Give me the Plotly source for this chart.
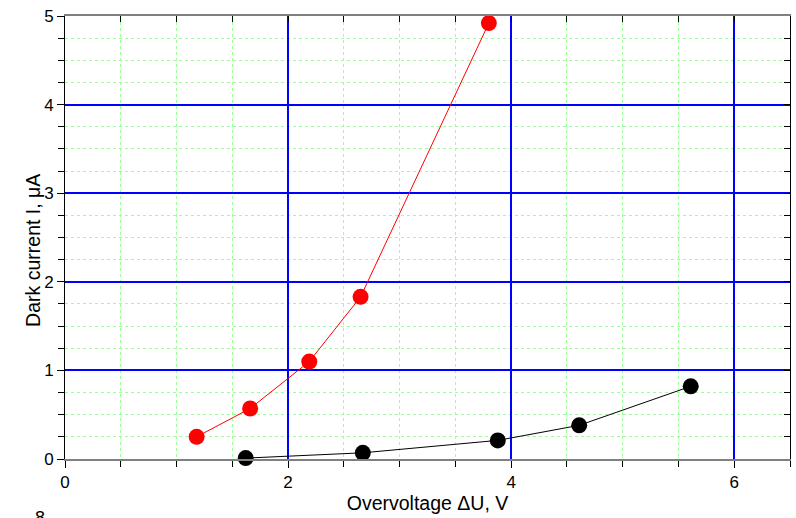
import plotly.graph_objects as go

red_x = [1.18, 1.66, 2.19, 2.65, 3.80]
red_y = [0.25, 0.57, 1.10, 1.83, 4.92]
black_x = [1.62, 2.67, 3.88, 4.61, 5.61]
black_y = [0.01, 0.07, 0.21, 0.38, 0.82]

x_title = "Overvoltage \u0394U, V"
y_title = "Dark current I, \u03bcA"

font = "Liberation Sans, Arial, sans-serif"

fig = go.Figure()
fig.add_trace(go.Scatter(x=red_x, y=red_y, mode="lines+markers",
                         line=dict(color="#ff0000", width=1),
                         marker=dict(color="#ff0000", size=16), cliponaxis=False))
fig.add_trace(go.Scatter(x=black_x, y=black_y, mode="lines+markers",
                         line=dict(color="#000000", width=1),
                         marker=dict(color="#000000", size=16), cliponaxis=False))
# invisible trace to activate the mirror axes (inside ticks on top / right)
fig.add_trace(go.Scatter(x=[None], y=[None], xaxis="x2", yaxis="y2",
                         showlegend=False, hoverinfo="skip"))

fig.update_layout(
    width=796, height=518,
    margin=dict(l=65, r=6, t=16, b=59),
    paper_bgcolor="white", plot_bgcolor="white",
    template="none",
    showlegend=False,
    font=dict(family=font, size=17, color="black"),
    xaxis=dict(range=[0, 6.5], tickvals=[0, 2, 4, 6],
               showgrid=True, gridcolor="#0000ff", gridwidth=1.5,
               zeroline=False, showline=True, linecolor="#808080", linewidth=2,
               ticks="outside", ticklen=7, tickcolor="black",
               minor=dict(tickvals=[0.5, 1, 1.5, 2.5, 3, 3.5, 4.5, 5, 5.5, 6.5],
                          showgrid=True, gridcolor="#9cff9c",
                          griddash="dot", gridwidth=1, ticks="outside",
                          ticklen=6, tickcolor="black"),
               title=dict(text=x_title, font=dict(size=19.5), standoff=4),
               tickfont=dict(size=17)),
    yaxis=dict(range=[0, 5], tickvals=[0, 1, 2, 3, 4, 5],
               showgrid=True, gridcolor="#0000ff", gridwidth=1.5,
               zeroline=False, showline=True, linecolor="black", linewidth=1,
               ticks="outside", ticklen=7, tickcolor="black",
               minor=dict(tickvals=[0.25, 0.5, 0.75, 1.25, 1.5, 1.75, 2.25, 2.5,
                                    2.75, 3.25, 3.5, 3.75, 4.25, 4.5, 4.75],
                          showgrid=True, gridcolor="#9cff9c",
                          griddash="dot", gridwidth=1, ticks="outside",
                          ticklen=6, tickcolor="black"),
               tickfont=dict(size=17)),
    xaxis2=dict(overlaying="x", side="top", range=[0, 6.5],
                showgrid=False, zeroline=False, showline=True,
                linecolor="#808080", linewidth=2, showticklabels=False,
                ticks="inside", ticklen=6, tickcolor="black", dtick=0.5, tick0=0),
    yaxis2=dict(overlaying="y", side="right", range=[0, 5],
                showgrid=False, zeroline=False, showline=True,
                linecolor="black", linewidth=1, showticklabels=False,
                ticks="inside", ticklen=6, tickcolor="black", dtick=0.25, tick0=0),
)

fig.add_annotation(text=y_title, xref="paper", yref="paper", x=-0.044, y=0.47,
                   xanchor="center", yanchor="middle", textangle=-90,
                   showarrow=False, font=dict(size=19.5))

fig.add_annotation(text="8", xref="paper", yref="paper", x=-0.035, y=-0.105,
                   xanchor="center", yanchor="top", showarrow=False,
                   font=dict(size=18))

fig.write_html("out.html")
